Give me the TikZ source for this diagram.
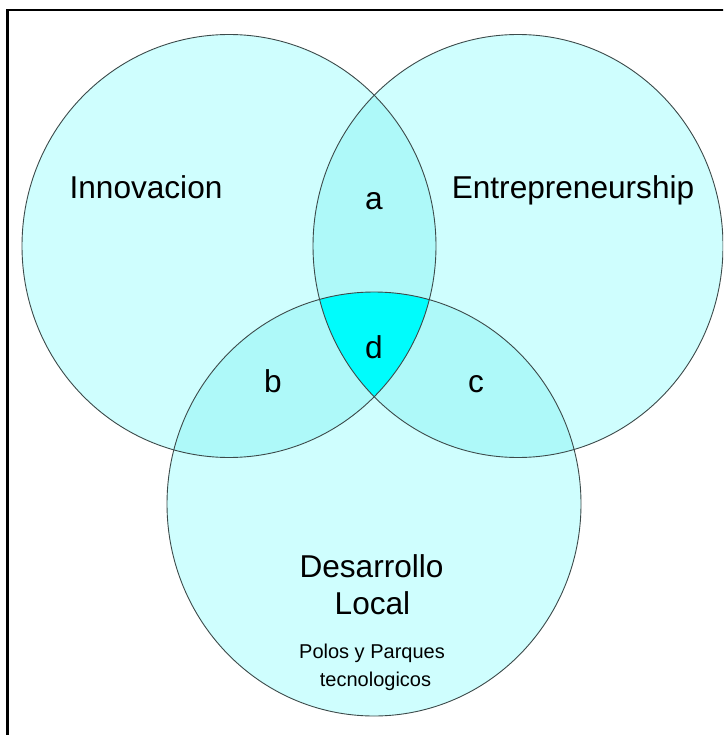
\documentclass[tikz,border=0pt]{standalone}
\usepackage{fontspec}
\setmainfont{Liberation Sans}
\definecolor{vennone}{HTML}{CFFEFE}
\definecolor{venntwo}{HTML}{AEF9F9}
\definecolor{vennthree}{HTML}{00FCFC}
\definecolor{rim}{HTML}{3C4A4A}
\begin{document}
\begin{tikzpicture}[x=1pt,y=-1pt,
  big/.style={font=\fontsize{31.6}{38}\selectfont, anchor=base, inner sep=0pt},
  small/.style={font=\fontsize{20}{24}\selectfont, anchor=base, inner sep=0pt},
  rimline/.style={draw=rim, line width=0.9pt}]
\useasboundingbox (0,0) rectangle (723,735);
\clip (0,0) rectangle (723,735);
\fill[white] (0,0) rectangle (723,735);
\coordinate (L) at (229,246);
\coordinate (R) at (518,246);
\coordinate (B) at (374,504);
\def\shapeL{(L) ellipse [x radius=207, y radius=211.5]}
\def\shapeR{(R) ellipse [x radius=205, y radius=211.5]}
\def\shapeB{(B) ellipse [x radius=207, y radius=212]}
% single fills
\fill[vennone] \shapeL;
\fill[vennone] \shapeR;
\fill[vennone] \shapeB;
% pairwise
\begin{scope}\clip \shapeL; \fill[venntwo] \shapeR; \fill[venntwo] \shapeB;\end{scope}
\begin{scope}\clip \shapeR; \fill[venntwo] \shapeB;\end{scope}
% triple
\begin{scope}\clip \shapeL; \clip \shapeR; \fill[vennthree] \shapeB;\end{scope}
% outlines
\draw[rimline] \shapeL;
\draw[rimline] \shapeR;
\draw[rimline] \shapeB;
% frame
\draw[line width=2.6pt] (7.5,10) rectangle (760,760);
% labels
\node[big] (inn) at (146,198.5) {Innovacion};
\node[big] (ent) at (573,198.5) {Entrepreneurship};
\node[big] (a) at (374,210) {a};
\node[big] (d) at (374,358) {d};
\node[big] (b) at (273,392) {b};
\node[big] (c) at (476,392) {c};
\node[big] (des) at (371.5,577) {Desarrollo};
\node[big] (loc) at (372.5,614) {Local};
\node[small] (pol) at (372,658) {Polos y Parques};
\node[small] (tec) at (375.5,686) {tecnologicos};
\end{tikzpicture}
\end{document}
